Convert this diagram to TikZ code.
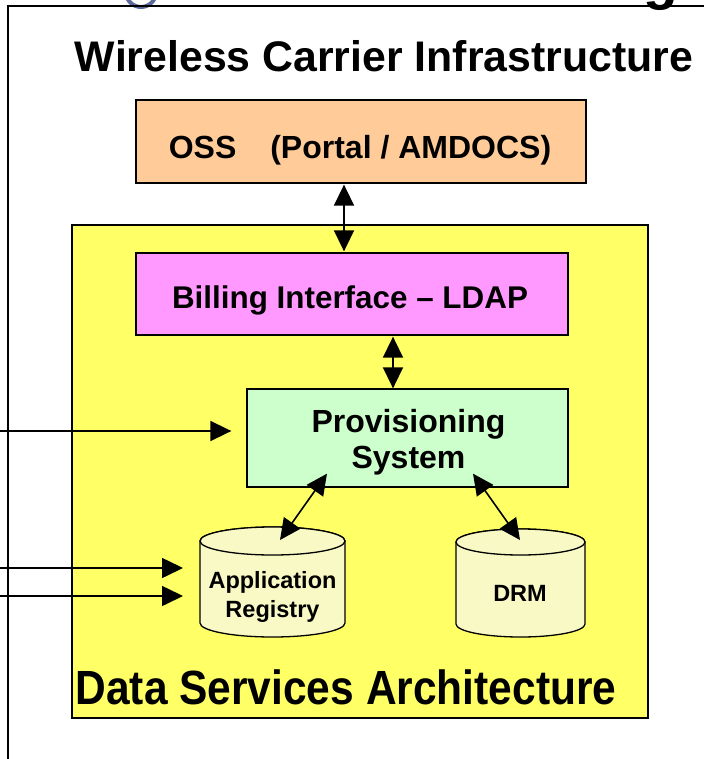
\documentclass[tikz,border=0pt]{standalone}
\usepackage{fontspec}
\setmainfont{Liberation Sans}
\usetikzlibrary{arrows.meta,calc}
\definecolor{ossc}{HTML}{FFCC99}
\definecolor{billc}{HTML}{FF99FF}
\definecolor{provc}{HTML}{CCFFCC}
\definecolor{dsac}{HTML}{FFFF66}
\definecolor{cylc}{HTML}{F9F9C6}
\definecolor{logoc}{HTML}{3F4F8C}
\newcommand\mycyl[5]{%
  \draw[cylst] (#1-#4,#2) -- (#1-#4,#3) arc[start angle=180,end angle=360,x radius=#4,y radius=#5] -- (#1+#4,#2) arc[start angle=0,end angle=180,x radius=#4,y radius=#5] -- cycle;
  \draw[cylst] (#1,#2) ellipse[x radius=#4,y radius=#5];}
\begin{document}
\begin{tikzpicture}[x=1pt,y=1pt,
  box/.style={draw=black,line width=1.3pt,inner sep=0pt,rectangle},
  cylst/.style={draw=black,line width=1.3pt,fill=cylc},
  lbl/.style={font=\bfseries\fontsize{32}{36}\selectfont,inner sep=0pt,anchor=base},
  small/.style={font=\bfseries\fontsize{23.5}{27}\selectfont,inner sep=0pt,anchor=base},
  biarrow/.style={line width=1.6pt,{Triangle[length=21pt,width=20pt]}-{Triangle[length=21pt,width=20pt]}},
  onearrow/.style={line width=1.6pt,-{Triangle[length=21pt,width=20pt]}}]
\useasboundingbox (0,0) rectangle (704,-759);
\clip (0,0) rectangle (704,-759);
\fill[white] (0,0) rectangle (704,-759);
% logo fragment and cut title glyph
\draw[logoc,line width=4pt,opacity=0.85] (141,8) circle[radius=15];
\node[font=\bfseries\fontsize{57}{60}\selectfont,inner sep=0pt,anchor=base] (gfrag) at (661,1) {g};
% frame
\draw[line width=1.2pt] (8,-759) -- (8,-6) -- (704,-6);
% title
\node[font=\bfseries\fontsize{42.8}{48}\selectfont,inner sep=0pt,anchor=base] (title) at (384,-72) {Wireless Carrier Infrastructure};
% OSS
\node[box,fill=ossc,minimum width=450pt,minimum height=83pt] (oss) at (361,-141.5) {};
\node[lbl] (osst) at (360,-159) {OSS\hspace{34pt}(Portal / AMDOCS)};
% data services area
\node[box,fill=dsac,minimum width=576pt,minimum height=493pt] (dsa) at (360,-471.5) {};
\node[inner sep=0pt,anchor=base,font=\bfseries\fontsize{48}{52}\selectfont] (dsat) at (346,-704) {\scalebox{0.885}[1]{Data Services Architecture}};
% billing
\node[box,fill=billc,minimum width=432pt,minimum height=82pt] (bill) at (352,-294) {};
\node[lbl,font=\bfseries\fontsize{31.4}{36}\selectfont] (billt) at (350,-308) {Billing Interface – LDAP};
% provisioning
\node[box,fill=provc,minimum width=321pt,minimum height=98pt] (prov) at (407.5,-438) {};
\node[lbl] (provt1) at (408.5,-432) {Provisioning};
\node[lbl] (provt2) at (408.5,-468) {System};
% cylinders
\mycyl{272.5}{-541}{-623}{72.5}{14}
\coordinate (appregtop) at (272.5,-541);
\coordinate (appregw) at (200,-582);
\node[small] (appt1) at (272.5,-588) {Application};
\node[small] (appt2) at (272.5,-617) {Registry};
\mycyl{520.5}{-542}{-624}{64.5}{13}
\coordinate (drmtop) at (520.5,-542);
\node[small,font=\bfseries\fontsize{23.5}{27}\selectfont] (drmt) at (520,-601) {DRM};
% connectors
\draw[biarrow] ([xshift=-17pt,yshift=-1pt]oss.south) -- ([xshift=-8pt,yshift=1pt]bill.north);
\draw[biarrow] ([xshift=41pt,yshift=-1pt]bill.south) -- ([xshift=-14.5pt]prov.north);
\draw[biarrow] ($(prov.south)+(-80.5,14)$) -- ($(appregtop)+(7.5,1)$);
\draw[biarrow] ($(prov.south)+(65.5,14)$) -- ($(drmtop)+(-0.5,2)$);
\coordinate (in1) at (0,-431);
\coordinate (in2) at (0,-568);
\coordinate (in3) at (0,-596);
\draw[onearrow] (in1) -- ($(in1 -| prov.west)+(-15,0)$);
\draw[onearrow] (in2) -- ($(in2 -| appregw)+(-17,0)$);
\draw[onearrow] (in3) -- ($(in3 -| appregw)+(-17,0)$);
\end{tikzpicture}
\end{document}
